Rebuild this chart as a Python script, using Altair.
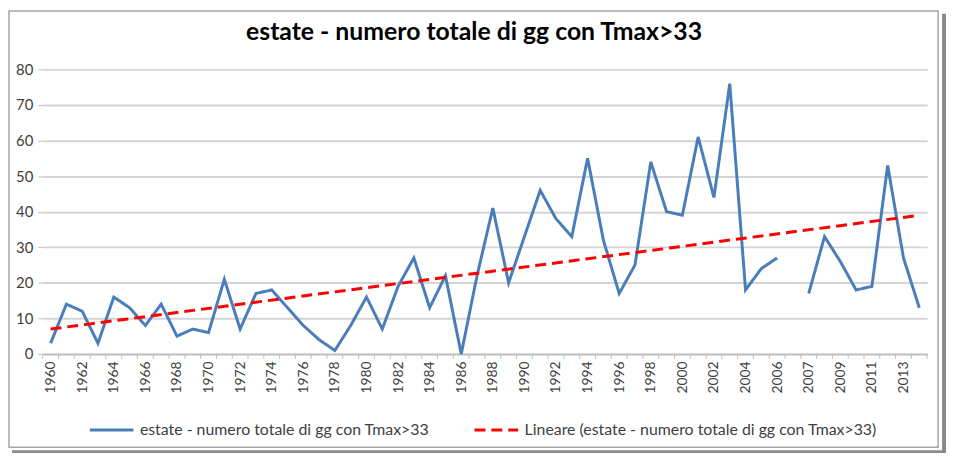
import altair as alt
import pandas as pd

# ---- data ----
categories = [str(y) for y in range(1960, 2007)] + [""] + [str(y) for y in range(2007, 2015)]
values = [3, 14, 12, 3, 16, 13, 8, 14, 5, 7,
          6, 21, 7, 17, 18, 13, 8, 4, 1, 8,
          16, 7, 19, 27, 13, 22, 0, 22, 41, 20,
          33, 46, 38, 33, 55, 32, 17, 25, 54, 40,
          39, 61, 44, 76, 18, 24, 27,
          None,
          17, 33, 26, 18, 19, 53, 27, 13]
series_names = ["estate - numero totale di gg con Tmax>33",
                "Lineare (estate - numero totale di gg con Tmax>33)"]
series_colors = ["#4a7ebb", "#ff0000"]
y_ticks = [0, 10, 20, 30, 40, 50, 60, 70, 80]
title_text = "estate - numero totale di gg con Tmax>33"

n = len(categories)
df = pd.DataFrame({"idx": list(range(n)), "cat": categories, "value": values})
bounds = pd.DataFrame({"idx": [i - 0.5 for i in range(n + 1)]})

W, H = 892, 287
FONT = "Lato"

label_arr = "[" + ",".join("'" + c + "'" for c in categories) + "]"
x_axis = alt.Axis(
    title=None, values=list(range(0, n, 2)), labelExpr=label_arr + "[datum.value]",
    labelAngle=270, labelAlign="right", labelBaseline="middle",
    labelFont=FONT, labelFontSize=14, labelColor="#404040", labelPadding=7,
    ticks=False, grid=False, domainColor="#bfbfbf", domainWidth=1.5,
    labelOverlap=False, labelBound=False, labelFlush=False,
)
x_scale = alt.Scale(domain=[-0.5, n - 0.5], nice=False, zero=False)
x_enc = alt.X("idx:Q", scale=x_scale, axis=x_axis)
y_enc = alt.Y(
    "value:Q",
    scale=alt.Scale(domain=[0, 80], nice=False),
    axis=alt.Axis(
        title=None, values=y_ticks, labelFont=FONT, labelFontSize=15, labelColor="#404040",
        labelPadding=5, tickSize=5, tickColor="#bfbfbf", gridColor="#d4d4d4", gridWidth=2,
        domain=False,
    ),
)

legend = alt.Legend(
    title=None, orient="none", legendX=46, legendY=340, direction="horizontal",
    labelFont=FONT, labelFontSize=16, labelColor="#404040", symbolType="stroke",
    symbolStrokeWidth=3, symbolSize=1936, columnPadding=39, labelOffset=5, labelLimit=500,
)
color_enc = alt.Color("series:N", scale=alt.Scale(domain=series_names, range=series_colors), legend=legend)
dash_enc = alt.StrokeDash("series:N", scale=alt.Scale(domain=series_names, range=[[1, 0], [11, 6]]), legend=legend)

base = alt.Chart(df)

data_line = base.mark_line(strokeWidth=3, invalid="break-paths-show-domains").transform_calculate(
    series="'" + series_names[0] + "'"
).encode(x=x_enc, y=y_enc, color=color_enc, strokeDash=dash_enc)

trend = base.transform_filter("isValid(datum.value)").transform_regression(
    "idx", "value", method="linear", extent=[0, n - 1]
).transform_calculate(
    series="'" + series_names[1] + "'"
).mark_line(strokeWidth=3).encode(x=x_enc, y=y_enc, color=color_enc, strokeDash=dash_enc)

ticks = alt.Chart(bounds).mark_rule(color="#bfbfbf", strokeWidth=1).encode(
    x=x_enc, y=alt.value(H), y2=alt.value(H + 5)
)

one = pd.DataFrame({"k": [0]})
frame = alt.Chart(one).mark_rect(fill="transparent", stroke="#a6a6a6", strokeWidth=1.5).encode(
    x=alt.value(-34), x2=alt.value(903), y=alt.value(-59), y2=alt.value(381)
)
shadow_r = alt.Chart(one).mark_rect(fill="#8c8c8c").encode(
    x=alt.value(907), x2=alt.value(911), y=alt.value(-56), y2=alt.value(387)
)
shadow_b = alt.Chart(one).mark_rect(fill="#8c8c8c").encode(
    x=alt.value(-31), x2=alt.value(911), y=alt.value(384), y2=alt.value(387)
)

chart = alt.layer(data_line, trend, ticks, frame, shadow_r, shadow_b).properties(
    width=W, height=H,
    title=alt.TitleParams(title_text, font=FONT, fontSize=25, fontWeight="bold",
                          color="#000000", anchor="middle", frame="group", dx=-11, dy=59, offset=24),
    autosize=alt.AutoSizeParams(type="none"),
    padding={"left": 35, "top": 60, "right": 20, "bottom": 101},
).configure(background="white").configure_view(stroke=None)

chart.save("out.html", embed_options={"renderer": "svg", "actions": False})
